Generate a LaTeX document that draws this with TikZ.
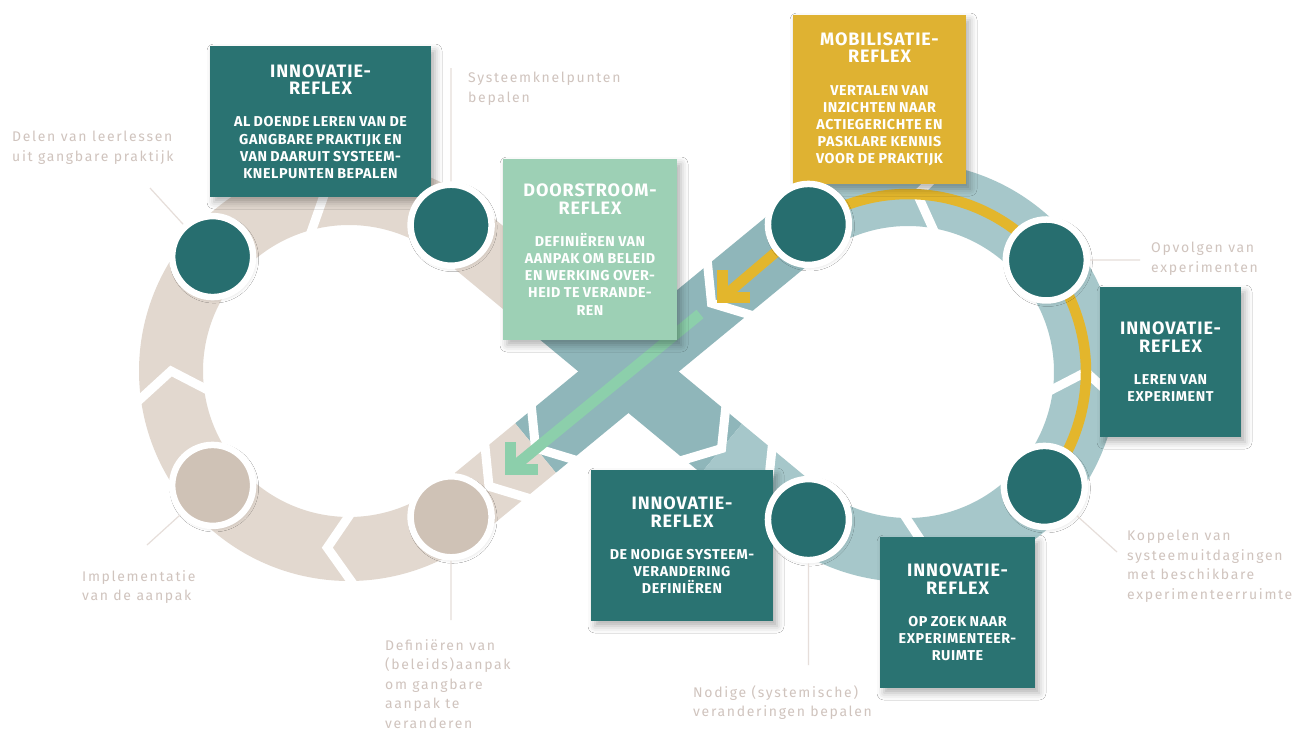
\documentclass[tikz,border=0pt]{standalone}
\usepackage{fontspec}
\setmainfont{Fira Sans}
\newfontfamily\titlefont{Fira Sans}[LetterSpace=5]
\newfontfamily\bodyfont{Fira Sans}[LetterSpace=4,WordSpace=1.4]
\usetikzlibrary{calc,shadows.blur}
\definecolor{tealbox}{HTML}{2A7372}
\definecolor{tealdot}{HTML}{276E6F}
\definecolor{beigedot}{HTML}{CFC2B6}
\definecolor{ringbeige}{HTML}{E2D8CF}
\definecolor{ringteal}{HTML}{A6C7CA}
\definecolor{xteal}{HTML}{8FB6BA}
\definecolor{mintbox}{HTML}{9DD0B5}
\definecolor{goldbox}{HTML}{DFB232}
\definecolor{goldline}{HTML}{E3B62C}
\definecolor{mintline}{HTML}{8CCFAB}
\definecolor{labelgray}{HTML}{D0C4BE}
\definecolor{leadergray}{HTML}{E6DEDA}
\newcommand\reflextext[2]{%
 {\titlefont\fontsize{18}{17.5}\selectfont\bfseries #1\par}%
 \vspace{15pt}%
 {\bodyfont\fontsize{14.3}{17.2}\selectfont\bfseries #2\par}}
\newcommand\ringgap[4]{%
 \draw[gapline] ({#1+218*cos(#4)},{#2+218*sin(#4)}) -- ({#1+178*cos(#3)},{#2+178*sin(#3)}) -- ({#1+138*cos(#4)},{#2+138*sin(#4)});}
\newcommand\linegap[3]{%
 \draw[gapline] ($(#1)!#3!(#2)!45pt!123.7:(#2)$) -- ($(#1)!#3!(#2)$) -- ($(#1)!#3!(#2)!45pt!-123.7:(#2)$);}
\begin{document}
\begin{tikzpicture}[x=1pt,y=-1pt,
  ringband/.style={line width=64pt, line cap=butt},
  gapline/.style={draw=white, line width=9pt, line join=miter, line cap=butt},
  dotnode/.style={circle, minimum size=81pt, inner sep=0pt, draw=white, line width=6.5pt,
     blur shadow={shadow xshift=1.5pt, shadow yshift=-2pt, shadow blur radius=4pt, shadow opacity=18}},
  tealdotst/.style={dotnode, fill=tealdot},
  beigedotst/.style={dotnode, fill=beigedot},
  reflexbox/.style={inner sep=0pt, text=white, align=center,
     blur shadow={shadow xshift=4pt, shadow yshift=-5pt, shadow blur radius=7pt, shadow opacity=30}},
  lbltext/.style={anchor=north west, inner sep=0pt, align=left, text=labelgray,
     font={\fontsize{14}{19.5}\selectfont\addfontfeatures{LetterSpace=12}}},
  leaderln/.style={draw=leadergray, line width=1.2pt},
  arrowline/.style={line width=11pt, line cap=butt, line join=miter}
]
\useasboundingbox (0,0) rectangle (1293,731);
\fill[white] (0,0) rectangle (1293,731);

\coordinate (L) at (349,371);
\coordinate (R) at (908,372);
\coordinate (A1) at ($(L)+(-50.4:178)$);
\coordinate (B1) at ($(R)+(129.6:178)$);
\coordinate (A2) at ($(R)+(-129.6:178)$);
\coordinate (B2) at ($(L)+(50.4:178)$);

% rings
\draw[ringband, ringbeige] plot[domain=50.4:309.6, samples=120, smooth] ({349+178*cos(\x)},{371+178*sin(\x)});
\draw[ringband, ringteal] plot[domain=-129.6:129.6, samples=120, smooth] ({908+178*cos(\x)},{372+178*sin(\x)});

% crossing bands
\draw[ringband, ringbeige] (A1) -- ($(A1)!0.25!(B1)$);
\draw[ringband, xteal] ($(A1)!0.25!(B1)$) -- ($(A1)!0.78!(B1)$);
\draw[ringband, ringteal] ($(A1)!0.78!(B1)$) -- (B1);
\draw[ringband, xteal] (A2) -- ($(A2)!0.78!(B2)$);
\draw[ringband, ringbeige] ($(A2)!0.78!(B2)$) -- (B2);

% chevron gaps
\ringgap{349}{371}{97}{88}
\ringgap{349}{371}{180}{171}
\ringgap{349}{371}{262}{253}
\ringgap{908}{372}{84}{93}
\ringgap{908}{372}{0}{9}
\ringgap{908}{372}{-87}{-78}
\linegap{A1}{B1}{0.25}
\linegap{A1}{B1}{0.78}
\linegap{A1}{B1}{0.92}
\linegap{A2}{B2}{0.25}
\linegap{A2}{B2}{0.78}
\linegap{A2}{B2}{0.92}

% circle positions
\coordinate (p1) at ($(L)+(220:178)$);
\coordinate (p2) at ($(L)+(-55:178)$);
\coordinate (p3) at ($(L)+(140:178)$);
\coordinate (p4) at ($(L)+(55:178)$);
\coordinate (p5) at ($(R)+(-124:178)$);
\coordinate (p6) at ($(R)+(-39:178)$);
\coordinate (p7) at ($(R)+(40:178)$);
\coordinate (p8) at ($(R)+(124:178)$);

% yellow mobilisation arrow
\draw[arrowline, goldline, line width=10.5pt] plot[domain=-124:40, samples=100, smooth] ({908+178*cos(\x)},{372+178*sin(\x)});
\coordinate (ycorner) at (722.5,297.5);
\draw[arrowline, goldline, line width=10.5pt] (p5) -- (ycorner);
\draw[arrowline, goldline, line width=10.5pt] ($(ycorner)+(0,-27.5)$) -- (ycorner) -- ($(ycorner)+(27.5,0)$);

% green doorstroom arrow
\coordinate (gstart) at (700,314);
\coordinate (gcorner) at (510.5,469.5);
\draw[arrowline, mintline] (gstart) -- (gcorner);
\draw[arrowline, mintline] ($(gcorner)+(0,-27.5)$) -- (gcorner) -- ($(gcorner)+(27.5,0)$);

% boxes
\node[reflexbox, fill=tealbox, minimum width=221pt, minimum height=151pt, text width=213pt] (b1) at (320.5,121.5)
  {\reflextext{INNOVATIE-\\REFLEX}{AL DOENDE LEREN VAN DE\\GANGBARE PRAKTIJK EN\\VAN DAARUIT SYSTEEM-\\KNELPUNTEN BEPALEN}};
\node[reflexbox, fill=mintbox, minimum width=174pt, minimum height=181pt, text width=170pt] (b2) at (590,249.5)
  {\reflextext{DOORSTROOM-\\REFLEX}{DEFINIËREN VAN\\AANPAK OM BELEID\\EN WERKING OVER-\\HEID TE VERANDE-\\REN}};
\node[reflexbox, fill=goldbox, minimum width=173pt, minimum height=169pt, text width=169pt] (b3) at (879.5,99.5)
  {\reflextext{MOBILISATIE-\\REFLEX}{VERTALEN VAN\\INZICHTEN NAAR\\ACTIEGERICHTE EN\\PASKLARE KENNIS\\VOOR DE PRAKTIJK}};
\node[reflexbox, fill=tealbox, minimum width=141pt, minimum height=150pt, text width=137pt] (b4) at (1170.5,362)
  {\reflextext{INNOVATIE-\\REFLEX}{LEREN VAN\\EXPERIMENT}};
\node[reflexbox, fill=tealbox, minimum width=182pt, minimum height=151pt, text width=178pt] (b5) at (682,545.5)
  {\reflextext{INNOVATIE-\\REFLEX}{DE NODIGE SYSTEEM-\\VERANDERING\\DEFINIËREN}};
\node[reflexbox, fill=tealbox, minimum width=155pt, minimum height=151pt, text width=151pt] (b6) at (957.5,612.5)
  {\reflextext{INNOVATIE-\\REFLEX}{OP ZOEK NAAR\\EXPERIMENTEER-\\RUIMTE}};

% circles
\node[tealdotst] (c1) at (p1) {};
\node[tealdotst] (c2) at (p2) {};
\node[beigedotst] (c3) at (p3) {};
\node[beigedotst] (c4) at (p4) {};
\node[tealdotst] (c5) at (p5) {};
\node[tealdotst] (c6) at (p6) {};
\node[tealdotst] (c7) at (p7) {};
\node[tealdotst] (c8) at (p8) {};

% labels and leader lines
\node[lbltext] (l1) at (12,131) {Delen van leerlessen\\uit gangbare praktijk};
\node[lbltext] (l2) at (468,72) {Systeemknelpunten\\bepalen};
\node[lbltext] (l3) at (1151,242) {Opvolgen van\\experimenten};
\node[lbltext] (l4) at (1127,530) {Koppelen van\\systeemuitdagingen\\met beschikbare\\experimenteerruimte};
\node[lbltext] (l5) at (82,570) {Implementatie\\van de aanpak};
\node[lbltext] (l6) at (385,639) {Definiëren van\\(beleids)aanpak\\om gangbare\\aanpak te\\veranderen};
\node[lbltext] (l7) at (693,685) {Nodige (systemische)\\veranderingen bepalen};

\coordinate (e1) at (150,188);
\coordinate (e2) at (451,68);
\coordinate (e3) at (1140,260);
\coordinate (e4) at (1117,552);
\coordinate (e5) at (147,545);
\coordinate (e6) at (451,620);
\coordinate (e7) at (808.5,665);
\draw[leaderln] (e1) -- (c1);
\draw[leaderln] (e2) -- (c2);
\draw[leaderln] (e3) -- (c6);
\draw[leaderln] (e4) -- (c7);
\draw[leaderln] (e5) -- (c3);
\draw[leaderln] (e6) -- (c4);
\draw[leaderln] (e7) -- (c8);
\end{tikzpicture}
\end{document}
